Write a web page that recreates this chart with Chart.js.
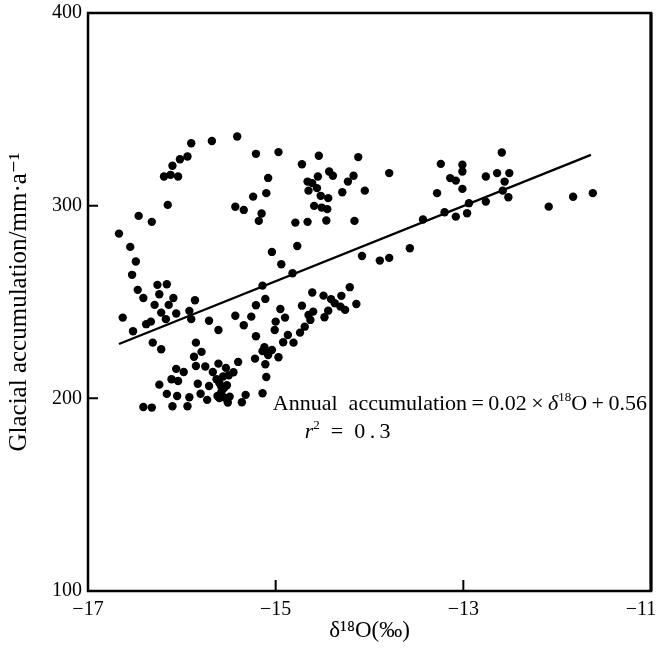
<!DOCTYPE html>
<html><head><meta charset="utf-8">
<script src="https://cdn.jsdelivr.net/npm/chart.js@4.4.0/dist/chart.umd.min.js"></script>
<style>html,body{margin:0;padding:0;background:#fff}#wrap{width:661px;height:653px}</style>
</head><body><div id="wrap"><canvas id="c" width="661" height="653"></canvas></div>
<script>
// ---- data ----
const upperLeftX = [-15.41,-15.68,-15.90,-15.21,-15.94,-16.02,-16.10,-16.19,-16.12,-16.04,-15.08,-15.10,-15.24,-16.15,-15.43,-15.34,-15.15,-15.18,-16.46,-16.32,-16.67,-16.55,-16.49,-16.53];
const upperLeftY = [335.9,333.6,332.4,326.9,325.5,324.1,320.7,315.1,316.0,315.1,314.4,306.5,304.7,300.4,299.4,297.8,295.9,292.1,294.7,291.6,285.5,278.6,271.0,264.1];

const lowerLeftX = [-16.47,-16.26,-16.16,-16.41,-16.24,-16.09,-16.29,-16.14,-15.86,-15.14,-15.11,-15.21,-16.22,-16.06,-15.92,-16.63,-16.17,-16.33,-16.38,-15.90,-15.71,-15.43,-15.26,-15.34,-15.61,-16.52,-15.21,-16.31,-16.22,-15.85,-15.12,-15.10,-15.14,-15.08,-15.79,-15.87,-15.22,-15.85,-15.75,-15.61,-15.40,-15.11,-16.06,-15.98,-15.53,-15.45,-16.11,-16.04,-15.63,-15.56,-15.50,-15.10,-16.24,-15.83,-15.71,-15.58,-15.52,-16.16,-16.05,-15.92,-15.80,-15.58,-15.62,-15.56,-15.60,-15.52,-15.49,-15.32,-15.14,-15.73,-15.51,-15.36,-16.41,-16.32,-16.10,-15.94,-15.67,-15.60,-15.55];
const lowerLeftY = [256.3,258.9,259.2,252.1,254.0,252.1,248.5,248.5,250.9,258.5,251.6,248.3,244.5,244.0,245.4,241.9,241.1,239.8,238.5,241.1,240.3,242.9,242.4,237.9,235.5,234.8,232.2,228.9,225.5,228.9,226.5,224.1,224.5,222.5,224.1,221.6,220.6,216.8,216.5,218.0,218.9,217.7,215.3,213.7,215.8,213.5,209.9,209.0,209.9,211.3,212.0,211.1,207.1,207.6,206.4,206.1,206.8,202.3,201.2,200.6,202.4,203.0,201.2,200.7,200.1,199.5,200.9,201.8,202.6,199.2,197.8,198.0,195.5,195.2,195.9,195.9,213.7,208.0,205.4];

const upperMidX = [-14.97,-14.54,-14.12,-14.72,-14.55,-14.43,-14.39,-14.66,-14.61,-14.17,-14.23,-13.79,-14.65,-14.56,-14.52,-14.44,-14.29,-14.05,-14.59,-14.51,-14.45,-14.79,-14.66,-14.46,-14.16,-15.04,-14.77,-14.94,-14.82,-14.08,-13.89,-13.79,-13.57];
const upperMidY = [327.8,325.9,325.2,321.5,315.1,317.7,315.5,312.5,311.7,315.5,312.5,316.9,307.8,309.1,305.1,303.9,307.0,307.8,299.9,299.0,298.2,291.2,291.6,292.3,292.1,276.0,279.1,269.6,264.9,273.9,271.5,272.9,277.9];

const lowerMidX = [-14.21,-14.61,-14.49,-14.30,-14.41,-14.37,-14.31,-14.26,-14.14,-14.72,-14.60,-14.65,-14.44,-14.48,-14.95,-14.90,-14.63,-15.00,-15.01,-14.69,-14.74,-14.87,-14.92,-14.81,-15.04,-14.97];
const lowerMidY = [257.7,254.9,253.3,253.2,251.5,249.4,247.6,245.9,249.0,248.1,245.0,243.3,245.5,242.1,246.4,241.9,240.7,239.8,235.5,237.2,234.1,232.9,229.1,228.9,225.1,221.3];

const rightX = [-12.59,-13.24,-13.01,-13.01,-13.14,-13.08,-12.76,-12.64,-12.51,-12.56,-13.28,-13.01,-12.58,-12.52,-12.76,-12.94,-13.20,-13.08,-12.96,-13.43,-12.09,-11.83,-11.62];
const rightY = [327.6,321.7,321.2,317.7,314.3,313.0,315.1,316.9,316.9,312.5,306.5,308.7,307.8,304.4,302.1,301.3,296.6,294.3,296.1,292.8,299.5,304.6,306.5];

const fitX = [-16.67, -11.64];
const fitY = [228.2, 326.4];

const xTicks = [-17, -15, -13, -11];
const yTicks = [100, 200, 300, 400];
const xLabels = ['\u221217', '\u221215', '\u221213', '\u221211\u2002\u2002'];
const yLabels = ['100', '200', '300', '400'];

const xTitle = '\u03B4\u00B9\u2078O(\u2030)';
const yTitle = 'Glacial accumulation/mm\u00B7a\u207B\u00B9';
const eqLine = ['Annual\u2002accumulation\u2009=\u20090.02\u2009\u00D7\u2009', '\u03B4', '18', 'O\u2009+\u20090.56'];
const r2Line = ['r', '2', '\u2002=\u20020\u2009.\u20093'];
const eqPos = [-15.03, 194.0];
const r2Pos = [-14.69, 179.4];

// ---- build ----
const SERIF = '"Liberation Serif", "DejaVu Serif", serif';
function pairs(xs, ys){ return xs.map((v,i)=>({x:v, y:ys[i]})); }
const points = [].concat(
  pairs(upperLeftX, upperLeftY), pairs(lowerLeftX, lowerLeftY),
  pairs(upperMidX, upperMidY), pairs(lowerMidX, lowerMidY), pairs(rightX, rightY));

const framePlugin = {
  id: 'frame',
  afterDatasetsDraw(chart){
    const {ctx, chartArea:a, scales:{x, y}} = chart;
    ctx.save();
    ctx.strokeStyle = '#000';
    ctx.lineWidth = 2.5;
    ctx.strokeRect(a.left, a.top, a.right - a.left, a.bottom - a.top);
    ctx.lineWidth = 3;
    ctx.beginPath(); ctx.moveTo(a.right, a.top); ctx.lineTo(a.right, a.bottom); ctx.stroke();
    ctx.lineWidth = 2;
    ctx.beginPath();
    xTicks.slice(1, -1).forEach(v => { const p = x.getPixelForValue(v); ctx.moveTo(p, a.bottom); ctx.lineTo(p, a.bottom - 11); });
    yTicks.slice(1, -1).forEach(v => { const p = y.getPixelForValue(v); ctx.moveTo(a.left, p); ctx.lineTo(a.left + 10, p); });
    ctx.stroke();
    // annotation
    ctx.fillStyle = '#000';
    ctx.textBaseline = 'alphabetic';
    ctx.textAlign = 'left';
    function seg(parts, px, py){
      let cx = px;
      parts.forEach(p => {
        ctx.font = p.f;
        ctx.fillText(p.t, cx, py + (p.dy || 0));
        cx += ctx.measureText(p.t).width;
      });
    }
    seg([
      {t: eqLine[0], f: '22px ' + SERIF},
      {t: eqLine[1], f: 'italic 22px ' + SERIF},
      {t: eqLine[2], f: '13px ' + SERIF, dy: -9},
      {t: eqLine[3], f: '22px ' + SERIF}
    ], x.getPixelForValue(eqPos[0]), y.getPixelForValue(eqPos[1]));
    seg([
      {t: r2Line[0], f: 'italic 22px ' + SERIF},
      {t: r2Line[1], f: '13px ' + SERIF, dy: -9},
      {t: r2Line[2], f: '22px ' + SERIF}
    ], x.getPixelForValue(r2Pos[0]), y.getPixelForValue(r2Pos[1]));
    ctx.restore();
  }
};

new Chart(document.getElementById('c'), {
  data: {
    datasets: [
      { type: 'scatter', data: points, pointRadius: 4.2, pointHoverRadius: 4.2,
        backgroundColor: '#000', borderColor: '#000', borderWidth: 0 },
      { type: 'line', data: pairs(fitX, fitY), borderColor: '#000', borderWidth: 2.4,
        pointRadius: 0, fill: false, tension: 0 }
    ]
  },
  options: {
    responsive: false, animation: false, devicePixelRatio: 1,
    layout: { padding: { top: 13, right: 10, left: 0, bottom: 0 } },
    plugins: { legend: { display: false }, tooltip: { enabled: false } },
    scales: {
      x: {
        type: 'linear', min: -17, max: -11,
        afterBuildTicks: s => { s.ticks = xTicks.map(v => ({ value: v })); },
        afterFit: s => { s.height = 62; s.paddingLeft = 0; s.paddingRight = 0; },
        grid: { display: false, drawTicks: false }, border: { display: false },
        ticks: { color: '#000', font: { family: SERIF, size: 20 }, padding: 7, maxRotation: 0, autoSkip: false,
          callback: v => xLabels[xTicks.indexOf(v)] },
        title: { display: true, text: xTitle, color: '#000', font: { family: SERIF, size: 23 }, padding: { top: 0, bottom: 8 } }
      },
      y: {
        type: 'linear', min: 100, max: 400,
        afterBuildTicks: s => { s.ticks = yTicks.map(v => ({ value: v })); },
        afterFit: s => { s.width = 88; s.paddingTop = 0; s.paddingBottom = 0; },
        grid: { display: false, drawTicks: false }, border: { display: false },
        ticks: { color: '#000', font: { family: SERIF, size: 20 }, padding: 6, autoSkip: false,
          callback: v => yLabels[yTicks.indexOf(v)] },
        title: { display: true, text: yTitle, color: '#000', font: { family: SERIF, size: 25 }, padding: { top: 4, bottom: 0 } }
      }
    }
  },
  plugins: [framePlugin]
});
</script>
</body></html>
